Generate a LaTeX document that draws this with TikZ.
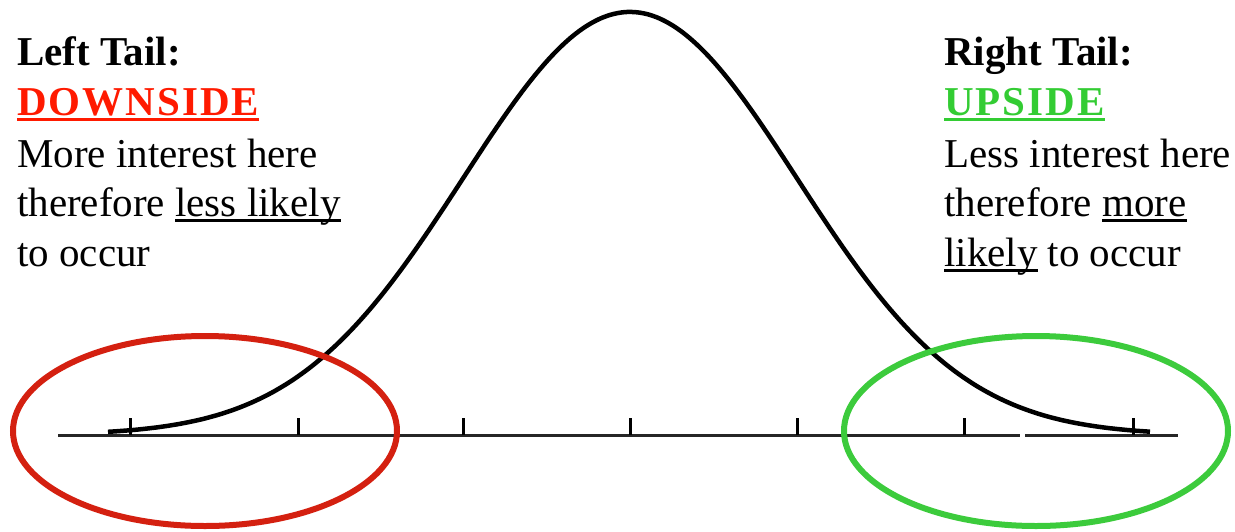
\documentclass[tikz,border=0pt]{standalone}
\usepackage{fontspec}
\setmainfont{Liberation Serif}
\definecolor{tailred}{HTML}{D42010}
\definecolor{tailgreen}{HTML}{3CCB3C}
\definecolor{txtred}{HTML}{FF1A00}
\definecolor{txtgreen}{HTML}{33CC33}
\newsavebox\ulbox
\newcommand\myul[1]{\sbox\ulbox{#1}\rlap{\rule[-6pt]{\wd\ulbox}{3pt}}\usebox\ulbox}
\tikzset{
  txt/.style={anchor=base west, inner sep=0pt, font=\fontsize{41}{50}\selectfont},
  head/.style={txt, font=\fontsize{41}{50}\selectfont\bfseries},
  spaced/.style={font=\fontsize{41}{50}\selectfont\bfseries\addfontfeature{LetterSpace=5}},
  axisline/.style={line width=3pt, black!85},
  tick/.style={line width=3pt, black},
  bell/.style={line width=4.5pt, black, line join=round},
  tailring/.style={line width=6pt},
}
\begin{document}
\begin{tikzpicture}[x=1pt,y=-1pt]
\useasboundingbox (0,0) rectangle (1235,531);
% axis
\coordinate (a0) at (58,435);
\coordinate (a1) at (1020,435);
\coordinate (a2) at (1025,435);
\coordinate (a3) at (1178,435);
\draw[axisline] (a0) -- (a1);
\draw[axisline] (a2) -- (a3);
% ticks
\foreach \x in {130,298,463,630,797,964,1133}{
  \draw[tick] (\x,435) -- (\x,418);
}
% bell curve
\draw[bell] plot[domain=108:1150, samples=240, smooth]
  (\x, {435 - 423*exp(-0.5*((\x-630)/167)^2)});
% ellipses
\draw[tailring, tailred] (205,431) ellipse [x radius=192, y radius=95];
\draw[tailring, tailgreen] (1036,431) ellipse [x radius=192, y radius=95];
% left text
\node[head] (lt1) at (17,65) {Left Tail:};
\node[head, spaced, text=txtred] (lt2) at (17,115) {\myul{DOWNSIDE}};
\node[txt] (lt3) at (17,167) {More interest here};
\node[txt] (lt4) at (17,216) {therefore \myul{less likely}};
\node[txt] (lt5) at (17,266) {to occur};
% right text
\node[head] (rt1) at (944,65) {Right Tail:};
\node[head, spaced, text=txtgreen] (rt2) at (944,115) {\myul{UPSIDE}};
\node[txt] (rt3) at (944,167) {Less interest here};
\node[txt] (rt4) at (944,216) {therefore \myul{more}};
\node[txt] (rt5) at (944,266) {\myul{likely} to occur};
\end{tikzpicture}
\end{document}
